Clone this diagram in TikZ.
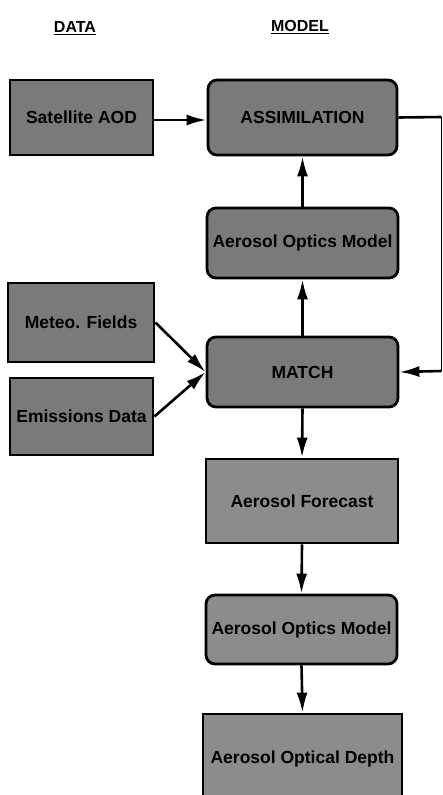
\documentclass[tikz,border=0pt]{standalone}
\usepackage{fontspec}
\setmainfont{Liberation Sans}
\usetikzlibrary{arrows.meta}
\begin{document}
\begin{tikzpicture}[x=1pt,y=-1pt,
  box/.style={draw=black,line width=2.8pt,minimum width=#1,inner sep=0pt,font=\fontsize{17.5}{19}\selectfont\bfseries,text=black},
  dark/.style={fill=black!52},
  light/.style={fill=black!45},
  rbox/.style={rounded corners=9pt},
  hdr/.style={font=\fontsize{16}{18}\selectfont\bfseries},
  conn/.style={line width=2.6pt,-{Latex[length=20pt,width=11pt]}},
]
\useasboundingbox (0,0) rectangle (443,795);
\node[hdr] (hdata) at (75,28) {\underline{DATA}};
\node[hdr] (hmodel) at (300,27) {\underline{MODEL}};

\node[box=143pt,dark,minimum height=75pt] (sat) at (81.5,117.5) {Satellite AOD};
\node[box=189pt,dark,rbox,minimum height=75pt] (assim) at (302.5,117.5) {ASSIMILATION};
\node[box=191pt,dark,rbox,minimum height=70pt] (optop) at (302.5,243) {Aerosol Optics Model};
\node[box=146pt,dark,minimum height=79pt] (meteo) at (81,322.5) {Meteo. Fields};
\node[box=143pt,dark,minimum height=77pt] (emis) at (81.5,416.5) {Emissions Data};
\node[box=191pt,dark,rbox,minimum height=70pt] (match) at (302.5,372) {MATCH};
\node[box=192pt,light,minimum height=84pt] (fore) at (302,501) {Aerosol Forecast};
\node[box=191pt,light,rbox,minimum height=69pt] (opbot) at (301.5,629.5) {Aerosol Optics Model};
\node[box=199pt,light,minimum height=90pt] (depth) at (302.5,759) {Aerosol Optical Depth};

\draw[conn] (sat.east |- 0,120) -- (assim.west |- 0,120);
\draw[conn] (optop.north) -- (assim.south);
\draw[conn] (match.north) -- (optop.south);
\draw[conn] (meteo.east) -- (match.west);
\draw[conn] (emis.east) -- (match.west);
\draw[conn] (match.south) -- (fore.north);
\draw[conn] (fore.south) -- (opbot.north);
\draw[conn] (opbot.south) -- (depth.north);

\coordinate (fbtop) at (441.5,117);
\coordinate (fbbot) at (441.5,371);
\draw[line width=2.6pt] (assim.east) -- (fbtop);
\draw[line width=1pt] (fbtop) -- (fbbot);
\draw[conn] (fbbot) -- (match.east);
\end{tikzpicture}
\end{document}
